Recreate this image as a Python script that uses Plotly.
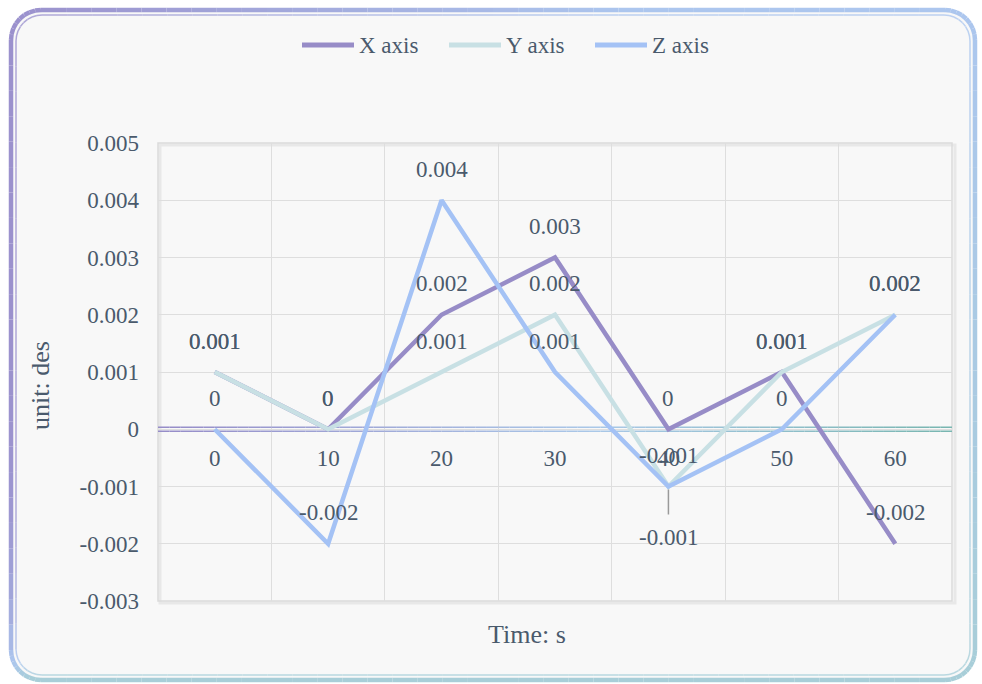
import math
import plotly.graph_objects as go

# ---------------- data ----------------
categories = ["0", "10", "20", "30", "40", "50", "60"]
x_axis = [0.001, 0.0, 0.002, 0.003, 0.0, 0.001, -0.002]
y_axis = [0.001, 0.0, 0.001, 0.002, -0.001, 0.001, 0.002]
z_axis = [0.0, -0.002, 0.004, 0.001, -0.001, 0.0, 0.002]
y_ticks = [-0.003, -0.002, -0.001, 0, 0.001, 0.002, 0.003, 0.004, 0.005]
y_tick_text = ["-0.003", "-0.002", "-0.001", "0", "0.001", "0.002", "0.003", "0.004", "0.005"]

series = [("X axis", x_axis, "#978cc7"), ("Y axis", y_axis, "#c8e0e4"), ("Z axis", z_axis, "#a4c2f5")]

# ---------------- layout geometry ----------------
W, H = 982, 684
L, R, T, B = 158, 30, 143, 83
PW, PH = W - L - R, H - T - B
FONT = "Liberation Serif, Times New Roman, serif"
TXT = "#4a5a6c"
FS = 23


def px(xp):
    return (xp - L) / PW


def py(yp):
    return (H - B - yp) / PH


def mix(c1, c2, t):
    t = max(0.0, min(1.0, t))
    return "rgb(%d,%d,%d)" % tuple(round(a + (b - a) * t) for a, b in zip(c1, c2))


fig = go.Figure()
idx = list(range(len(categories)))

for name, vals, col in series:
    fig.add_trace(go.Scatter(x=idx, y=vals, mode="lines", name=name,
                             line=dict(color=col, width=4.5), hoverinfo="skip",
                             showlegend=False))

shapes = []


def rounded_points(x0, y0, x1, y1, r, n=8):
    pts = []
    corners = [(x0 + r, y0 + r, 180, 270), (x1 - r, y0 + r, 270, 360),
               (x1 - r, y1 - r, 0, 90), (x0 + r, y1 - r, 90, 180)]
    for cx, cy, a0, a1 in corners:
        for k in range(n + 1):
            a = math.radians(a0 + (a1 - a0) * k / n)
            pts.append((cx + r * math.cos(a), cy + r * math.sin(a)))
    return pts


def path_from(pts):
    s = "M %f,%f " % (px(pts[0][0]), py(pts[0][1]))
    s += " ".join("L %f,%f" % (px(a), py(b)) for a, b in pts[1:])
    return s + " Z"


card = rounded_points(11, 10, 975, 680, 30)
shapes.append(dict(type="path", xref="paper", yref="paper", path=path_from(card),
                   fillcolor="#f8f8f8", line=dict(width=0), layer="below"))

PURPLE = (155, 145, 205)
LBLUE = (172, 198, 238)
TEAL = (168, 206, 216)


def border_rgb(x, y):
    t = min(1.0, (x - 11) / 964 * 1.25 + ((y - 10) / 670) ** 8)
    if t < 0.8:
        c1, c2, u = PURPLE, LBLUE, t / 0.8
    else:
        c1, c2, u = LBLUE, TEAL, (t - 0.8) / 0.2 * ((y - 10) / 670)
    return [a + (b - a) * u for a, b in zip(c1, c2)]


def add_border(pts, width, lighten=0.0):
    pts = pts + [pts[0]]
    for (a, b), (c, d) in zip(pts[:-1], pts[1:]):
        segs = max(1, int(((c - a) ** 2 + (d - b) ** 2) ** 0.5 // 25))
        for k in range(segs):
            xa = a + (c - a) * k / segs
            ya = b + (d - b) * k / segs
            xb = a + (c - a) * (k + 1) / segs
            yb = b + (d - b) * (k + 1) / segs
            rgb = border_rgb((xa + xb) / 2, (ya + yb) / 2)
            col = mix(rgb, (255, 255, 255), lighten)
            shapes.append(dict(type="line", xref="paper", yref="paper",
                               x0=px(xa), y0=py(ya), x1=px(xb), y1=py(yb),
                               line=dict(color=col, width=width), layer="below"))


add_border(card, 4.5)
add_border(rounded_points(16, 15, 970, 675, 26), 1.5, lighten=0.2)

# plot frame with soft shadow
shapes.append(dict(type="rect", xref="paper", yref="paper", x0=px(160), y0=py(603), x1=px(955), y1=py(145),
                   line=dict(color="#e8e8e8", width=3), layer="below"))
shapes.append(dict(type="rect", xref="paper", yref="paper", x0=0, y0=0, x1=1, y1=1,
                   line=dict(color="#dadada", width=1.5), layer="below"))

# gradient double zero line
P0, P1, P2 = (150, 140, 200), (170, 200, 232), (120, 182, 176)
N = 70
for i in range(N):
    xa = -0.5 + 7 * i / N
    xb = -0.5 + 7 * (i + 1) / N
    t = (i + 0.5) / N
    col = mix(P0, P1, t / 0.55) if t < 0.55 else mix(P1, P2, (t - 0.55) / 0.45)
    for off in (2, -2):
        shapes.append(dict(type="line", xref="x", yref="y", x0=xa, x1=xb,
                           ysizemode="pixel", yanchor=0, y0=off, y1=off,
                           line=dict(color=col, width=1.5), layer="between"))

# data labels
annotations = []
for name, vals, col in series:
    for i, v in enumerate(vals):
        txt = "%g" % v
        if name == "Z axis" and i == 4:
            annotations.append(dict(x=i, y=v, xref="x", yref="y", text=txt,
                                    showarrow=True, arrowhead=0, arrowwidth=1.5, arrowcolor="#9a9a9a",
                                    ax=0, ay=51, standoff=3, startstandoff=9,
                                    font=dict(family=FONT, size=FS, color=TXT)))
        else:
            annotations.append(dict(x=i, y=v, xref="x", yref="y", text=txt,
                                    showarrow=False, yshift=31,
                                    font=dict(family=FONT, size=FS, color=TXT)))

# axis titles
annotations.append(dict(x=px(40), y=py(386), xref="paper", yref="paper", text="unit: des",
                        textangle=-90, showarrow=False, xanchor="center", yanchor="middle",
                        font=dict(family=FONT, size=26, color=TXT)))
annotations.append(dict(x=px(527), y=py(634), xref="paper", yref="paper", text="Time: s",
                        showarrow=False, xanchor="center", yanchor="middle",
                        font=dict(family=FONT, size=26, color=TXT)))

# legend (line sample + label for each series)
leg_x = [300, 447, 593]
for (name, vals, col), lx in zip(series, leg_x):
    shapes.append(dict(type="line", xref="paper", yref="paper", x0=px(lx + 2), x1=px(lx + 54),
                       y0=py(45), y1=py(45), line=dict(color=col, width=5), layer="above"))
    annotations.append(dict(x=px(lx + 57), y=py(45), xref="paper", yref="paper", text=name,
                            showarrow=False, xanchor="left", yanchor="middle",
                            font=dict(family=FONT, size=FS, color=TXT)))

fig.update_layout(
    width=W, height=H,
    margin=dict(l=L, r=R, t=T, b=B),
    paper_bgcolor="white", plot_bgcolor="rgba(0,0,0,0)",
    font=dict(family=FONT, size=FS, color=TXT),
    showlegend=False,
    xaxis=dict(range=[-0.5, 6.5], tickvals=idx, ticktext=categories, showgrid=False,
               showline=False, zeroline=False, ticks="",
               anchor="free", position=(0 - y_ticks[0]) / (y_ticks[-1] - y_ticks[0]),
               ticklabelstandoff=13, tickfont=dict(family=FONT, size=FS, color=TXT)),
    xaxis2=dict(range=[-0.5, 6.5], overlaying="x", tickvals=[i - 0.5 for i in idx] + [len(idx) - 0.5],
                showticklabels=False, showgrid=True, gridcolor="#dedede", gridwidth=1,
                zeroline=False, showline=False, ticks="", anchor="y"),
    yaxis=dict(range=[y_ticks[0], y_ticks[-1]], tickvals=y_ticks, ticktext=y_tick_text,
               showgrid=True, gridcolor="#dedede", gridwidth=1, zeroline=False, showline=False,
               ticks="", ticklabelstandoff=18, tickfont=dict(family=FONT, size=FS, color=TXT)),
    shapes=shapes,
    annotations=annotations,
)
# invisible trace so the grid axis is drawn
fig.add_trace(go.Scatter(x=[], y=[], xaxis="x2", showlegend=False, hoverinfo="skip"))

fig.write_html("out.html")
